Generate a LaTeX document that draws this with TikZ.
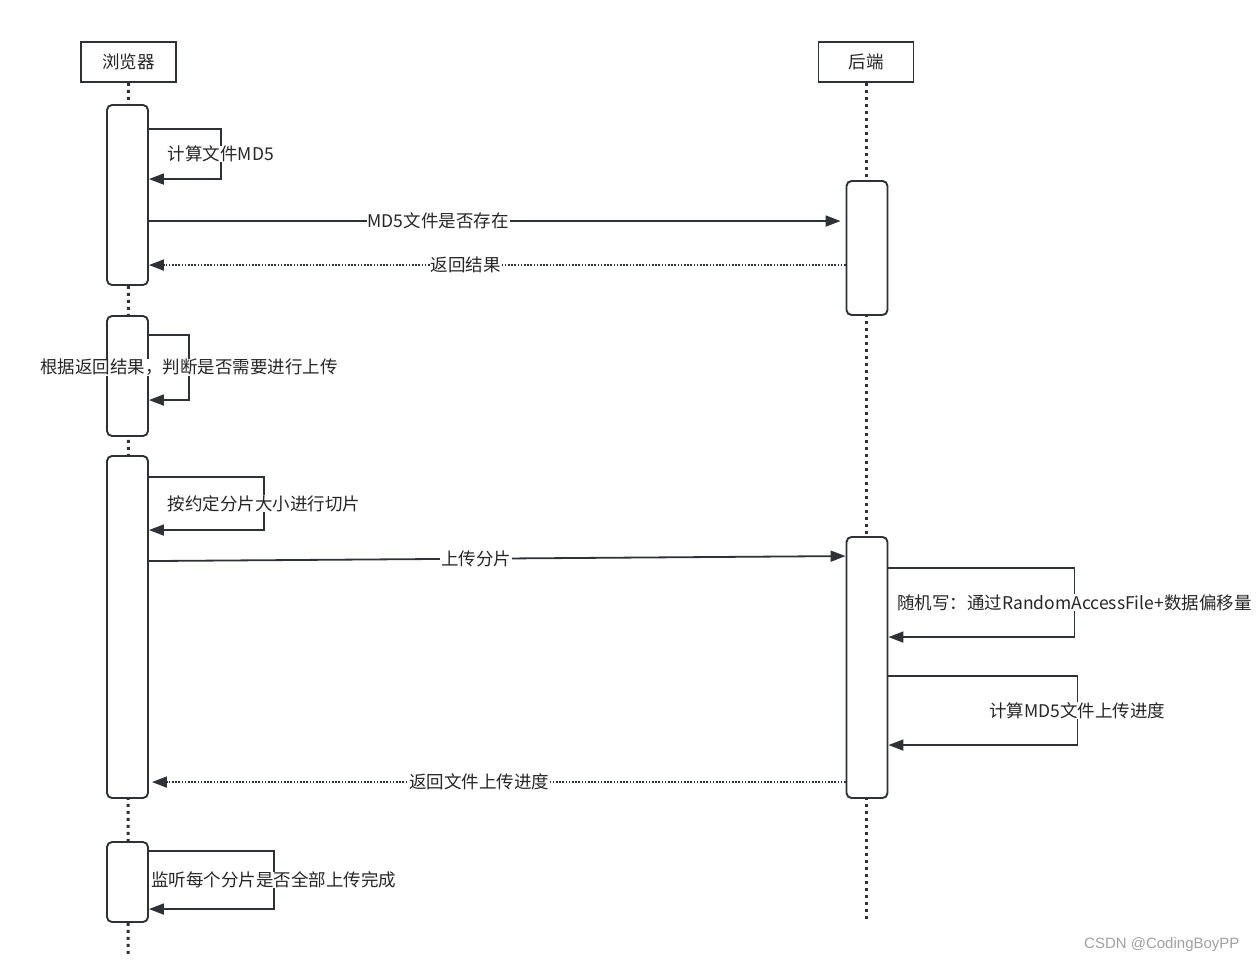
\documentclass[tikz,border=0pt]{standalone}
\usepackage{fontspec}
\setmainfont{Noto Sans CJK SC}
\newfontfamily\wmfont{Liberation Sans}
\usetikzlibrary{arrows.meta}
\definecolor{ln}{HTML}{2E3236}
\definecolor{tx}{HTML}{262626}
\definecolor{wm}{HTML}{A0A0A0}
\tikzset{
  lblfont/.style={font=\fontsize{17.5}{20}\selectfont},
  hdr/.style={draw=ln, line width=1.9pt, fill=white, minimum width=95pt, minimum height=40pt, inner sep=0pt, lblfont, text=tx},
  act/.style={draw=ln, line width=1.9pt, fill=white, rounded corners=5pt, minimum width=41pt, inner sep=0pt},
  life/.style={draw=ln, line width=3pt, dash pattern=on 3pt off 4pt},
  msg/.style={draw=ln, line width=1.8pt, -{Triangle[length=15pt,width=11pt]}},
  ret/.style={msg, dash pattern=on 1.6pt off 1.6pt},
  lbl/.style={fill=white, inner xsep=1pt, inner ysep=0pt, lblfont, text=tx},
}
\begin{document}
\begin{tikzpicture}[x=1pt,y=-1pt]
\useasboundingbox (0,0) rectangle (1257,964);
\fill[white] (0,0) rectangle (1257,964);

% headers
\node[hdr] (br) at (128.5,62) {浏览器};
\node[hdr] (be) at (866,62) {后端};
\coordinate (brend) at (128,955);
\coordinate (beend) at (866,920);
\draw[life] (br.south) -- (brend);
\draw[life] (be.south) -- (beend);

% activations
\node[act, minimum height=180pt] (a1) at (127.5,195) {};
\node[act, minimum height=120pt] (a2) at (127.5,376) {};
\node[act, minimum height=342pt] (a3) at (127.5,627) {};
\node[act, minimum height=80pt]  (a4) at (127.5,882) {};
\node[act, minimum height=134pt] (b1) at (867,248) {};
\node[act, minimum height=261pt] (b2) at (867,667.5) {};

% self message 1
\draw[msg] ([yshift=-25pt]a1.north east) -- ++(72,0)
  -- node[lbl]{计算文件MD5} ++(0,50) -- ([yshift=-75pt]a1.north east);
% MD5 exists
\draw[msg, shorten >=5pt] ([yshift=-117pt]a1.north east) -- node[lbl, pos=0.415]{MD5文件是否存在} ([yshift=-41pt]b1.north west);
% return result
\draw[ret] ([yshift=-85pt]b1.north west) -- node[lbl, pos=0.545]{返回结果} ([yshift=-161pt]a1.north east);
% self message 2
\draw[msg] ([yshift=-20pt]a2.north east) -- ++(40,0)
  -- node[lbl]{根据返回结果，判断是否需要进行上传} ++(0,65) -- ([yshift=-85pt]a2.north east);
% self message 3
\draw[msg] ([yshift=-22pt]a3.north east) -- ++(115,0)
  -- node[lbl]{按约定分片大小进行切片} ++(0,53) -- ([yshift=-75pt]a3.north east);
% upload chunk
\draw[msg] ([yshift=-106pt]a3.north east) -- node[lbl, pos=0.47]{上传分片} ([yshift=-20pt]b2.north west);
% self message 4
\draw[msg] ([yshift=-32pt]b2.north east) -- ++(186,0)
  -- node[lbl]{随机写：通过RandomAccessFile+数据偏移量} ++(0,69) -- ([yshift=-101pt]b2.north east);
% self message 5
\draw[msg] ([yshift=-140pt]b2.north east) -- ++(189,0)
  -- node[lbl]{计算MD5文件上传进度} ++(0,69) -- ([yshift=-209pt]b2.north east);
% return progress
\draw[ret, shorten >=3pt] ([yshift=-246pt]b2.north west) -- node[lbl, pos=0.526]{返回文件上传进度} ([yshift=-327pt]a3.north east);
% self message 6
\draw[msg] ([yshift=-10pt]a4.north east) -- ++(125,0)
  -- node[lbl]{监听每个分片是否全部上传完成} ++(0,58) -- ([yshift=-68pt]a4.north east);

% watermark
\node[text=wm, font=\wmfont\fontsize{15}{17}\selectfont, anchor=east] (wmk) at (1243,945) {CSDN @CodingBoyPP};
\end{tikzpicture}
\end{document}
